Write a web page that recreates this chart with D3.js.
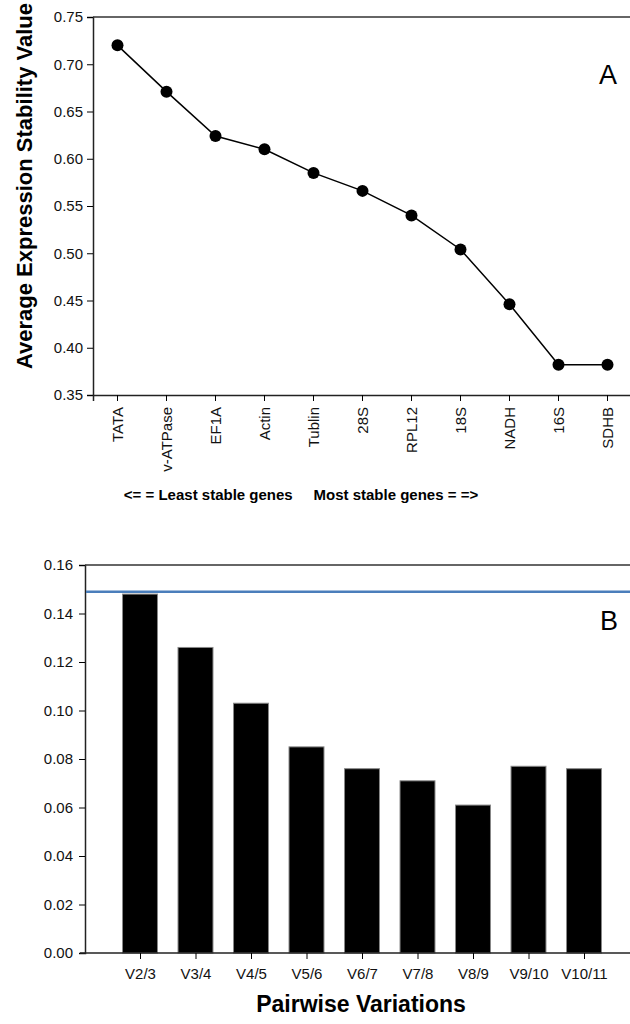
<!DOCTYPE html>
<html>
<head>
<meta charset="utf-8">
<script src="https://cdn.jsdelivr.net/npm/d3@7"></script>
<style>
  body { margin: 0; background: #fff; }
  svg { font-family: "Liberation Sans", Arial, sans-serif; }
</style>
</head>
<body>
<div id="app"></div>
<script>
// panel A data
const genes = ["TATA", "v-ATPase", "EF1A", "Actin", "Tublin", "28S", "RPL12", "18S", "NADH", "16S", "SDHB"];
const stability = [0.720, 0.671, 0.624, 0.610, 0.585, 0.566, 0.540, 0.504, 0.446, 0.382, 0.382];
const stabTicks = [0.35, 0.40, 0.45, 0.50, 0.55, 0.60, 0.65, 0.70, 0.75];

// panel B data
const pairs = ["V2/3", "V3/4", "V4/5", "V5/6", "V6/7", "V7/8", "V8/9", "V9/10", "V10/11"];
const pairwise = [0.148, 0.126, 0.103, 0.085, 0.076, 0.071, 0.061, 0.077, 0.076];
const pairTicks = [0.00, 0.02, 0.04, 0.06, 0.08, 0.10, 0.12, 0.14, 0.16];
const cutoff = 0.149;

const svg = d3.select("#app")
  .append("svg")
  .attr("width", 630)
  .attr("height", 1024);

// ---- panel A ----
const xA = d3.scaleBand()
  .domain(genes)
  .range([93, 632]);

const yA = d3.scaleLinear()
  .domain([0.35, 0.75])
  .range([395, 17]);

const gA = svg.append("g");

gA.append("g")
  .attr("transform", "translate(93,0)")
  .call(d3.axisLeft(yA).tickValues(stabTicks).tickFormat(d3.format(".2f")).tickSize(6).tickPadding(4))
  .call(g => g.select(".domain").attr("stroke", "#222").attr("stroke-width", 1.5))
  .call(g => g.selectAll("text").attr("font-size", 15).attr("fill", "#111"));

gA.append("g")
  .attr("transform", "translate(0,395)")
  .call(d3.axisBottom(xA).tickSizeOuter(0).tickSize(6).tickPadding(0))
  .call(g => g.select(".domain").attr("stroke", "#222").attr("stroke-width", 1.5))
  .call(g => g.selectAll("text")
    .attr("font-size", 15)
    .attr("fill", "#111")
    .attr("text-anchor", "end")
    .attr("transform", "rotate(-90)")
    .attr("x", -12)
    .attr("y", 0)
    .attr("dy", "0.35em"));

// top frame line
gA.append("line")
  .attr("x1", 93).attr("x2", 630)
  .attr("y1", yA(0.75)).attr("y2", yA(0.75))
  .attr("stroke", "#333").attr("stroke-width", 1.5);

const line = d3.line()
  .x((d, i) => xA(genes[i]) + xA.bandwidth() / 2)
  .y(d => yA(d));

gA.append("path")
  .datum(stability)
  .attr("d", line)
  .attr("fill", "none")
  .attr("stroke", "#000")
  .attr("stroke-width", 1.5);

gA.selectAll("circle")
  .data(stability)
  .enter()
  .append("circle")
  .attr("cx", (d, i) => xA(genes[i]) + xA.bandwidth() / 2)
  .attr("cy", d => yA(d))
  .attr("r", 6)
  .attr("fill", "#000");

gA.append("text")
  .attr("transform", "translate(32,186) rotate(-90)")
  .attr("text-anchor", "middle")
  .attr("font-size", 22)
  .attr("font-weight", "bold")
  .text("Average Expression Stability Value");

gA.append("text")
  .attr("x", 301).attr("y", 500)
  .attr("text-anchor", "middle")
  .attr("font-size", 15)
  .attr("font-weight", "bold")
  .attr("xml:space", "preserve")
  .text("<= = Least stable genes     Most stable genes = =>");

gA.append("text")
  .attr("x", 608).attr("y", 84)
  .attr("text-anchor", "middle")
  .attr("font-size", 27)
  .text("A");

// ---- panel B ----
const xB = d3.scalePoint()
  .domain(pairs)
  .range([140, 584]);
const barW = xB.step() * 0.63;

const yB = d3.scaleLinear()
  .domain([0, 0.16])
  .range([953, 565]);

const gB = svg.append("g");

gB.selectAll("rect")
  .data(pairwise)
  .enter()
  .append("rect")
  .attr("x", (d, i) => xB(pairs[i]) - barW / 2)
  .attr("y", d => yB(d))
  .attr("width", barW)
  .attr("height", d => yB(0) - yB(d))
  .attr("fill", "#000")
  .attr("stroke", "#888")
  .attr("stroke-width", 1);

gB.append("g")
  .attr("transform", "translate(85,0)")
  .call(d3.axisLeft(yB).tickValues(pairTicks).tickFormat(d3.format(".2f")).tickSize(6).tickPadding(6))
  .call(g => g.select(".domain").attr("stroke", "#222").attr("stroke-width", 1.5))
  .call(g => g.selectAll("text").attr("font-size", 15).attr("fill", "#111"));

gB.append("g")
  .attr("transform", "translate(0,953)")
  .call(d3.axisBottom(xB).tickSizeOuter(0).tickSize(6).tickPadding(9))
  .call(g => g.select(".domain").attr("d", "M80,0H630").attr("stroke", "#222").attr("stroke-width", 1.5))
  .call(g => g.selectAll("text").attr("font-size", 15).attr("fill", "#111"));

gB.append("line")
  .attr("x1", 85).attr("x2", 630)
  .attr("y1", yB(0.16)).attr("y2", yB(0.16))
  .attr("stroke", "#333").attr("stroke-width", 1.5);

gB.append("line")
  .attr("x1", 86).attr("x2", 630)
  .attr("y1", yB(cutoff)).attr("y2", yB(cutoff))
  .attr("stroke", "#4a7ebb").attr("stroke-width", 2.5);

gB.append("text")
  .attr("x", 609).attr("y", 630)
  .attr("text-anchor", "middle")
  .attr("font-size", 27)
  .text("B");

gB.append("text")
  .attr("x", 361).attr("y", 1012)
  .attr("text-anchor", "middle")
  .attr("font-size", 23)
  .attr("font-weight", "bold")
  .text("Pairwise Variations");
</script>
</body>
</html>
